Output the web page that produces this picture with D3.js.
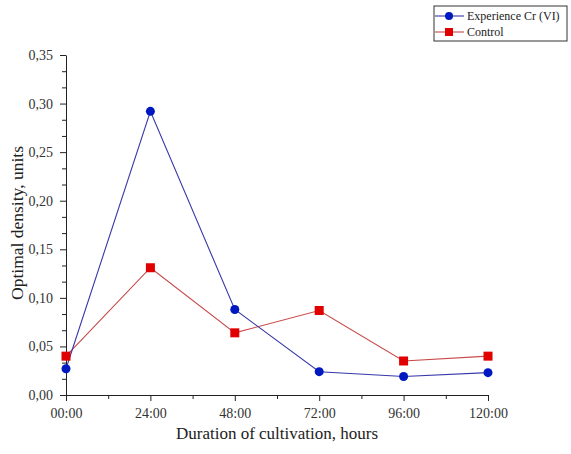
<!DOCTYPE html>
<html>
<head>
<meta charset="utf-8">
<script src="https://cdn.jsdelivr.net/npm/d3@7"></script>
<style>
    body { margin: 0; background: #fff; }
    text { font-family: "Liberation Serif", "Times New Roman", serif; }
</style>
</head>
<body>
<div id="vis"></div>
<script>
// Hours of cultivation (x values)
var hours = [0, 24, 48, 72, 96, 120];
// Series values
var experience = [0.027, 0.292, 0.088, 0.024, 0.019, 0.023];
var control = [0.040, 0.131, 0.064, 0.087, 0.035, 0.040];
// Tick values and labels
var xTicks = [0, 24, 48, 72, 96, 120];
var xTickLabels = ['00:00', '24:00', '48:00', '72:00', '96:00', '120:00'];
var yTicks = [0, 0.05, 0.10, 0.15, 0.20, 0.25, 0.30, 0.35];

var width = 571;
var height = 454;

// Space around the plot area
var margin = { left: 66, top: 55, right: 83, bottom: 59 };
var drawWidth = width - margin.left - margin.right;
var drawHeight = height - margin.top - margin.bottom;

var svg = d3.select('#vis')
    .append('svg')
    .attr('width', width)
    .attr('height', height);

var g = svg.append('g')
    .attr('transform', 'translate(' + margin.left + ',' + margin.top + ')');

// Scales
var xScale = d3.scaleLinear().domain([0, 120]).range([0, drawWidth]);
var yScale = d3.scaleLinear().domain([0, 0.35]).range([drawHeight, 0]);

// Minor ticks: halfway on x, thirds on y
var xMinor = d3.range(12, 120, 24);
var yMinor = [];
yTicks.slice(0, -1).forEach(function(t) {
    yMinor.push(t + 0.05 / 3, t + 0.10 / 3);
});

// Minor tick axes (no labels)
g.append('g')
    .attr('transform', 'translate(0,' + drawHeight + ')')
    .call(d3.axisBottom(xScale).tickValues(xMinor).tickSize(4).tickFormat(''))
    .call(function(a) { a.select('.domain').remove(); });
g.append('g')
    .call(d3.axisLeft(yScale).tickValues(yMinor).tickSize(4).tickFormat(''))
    .call(function(a) { a.select('.domain').remove(); });

// Major axes
var xAxis = g.append('g')
    .attr('class', 'axis')
    .attr('transform', 'translate(0,' + drawHeight + ')')
    .call(d3.axisBottom(xScale)
        .tickValues(xTicks)
        .tickSize(6)
        .tickSizeOuter(0)
        .tickPadding(4)
        .tickFormat(function(d, i) { return xTickLabels[i]; }));

var yAxis = g.append('g')
    .attr('class', 'axis')
    .call(d3.axisLeft(yScale)
        .tickValues(yTicks)
        .tickSize(6)
        .tickSizeOuter(0)
        .tickPadding(7)
        .tickFormat(function(d) { return d3.format('.2f')(d).replace('.', ','); }));

g.selectAll('.axis text')
    .attr('font-size', 14)
    .attr('fill', '#333')
    .style('font-family', '"Liberation Serif", serif');
xAxis.selectAll('text').attr('dy', '0.9em');
g.selectAll('.tick line, .domain').attr('stroke', '#222');

// Axis titles
svg.append('text')
    .attr('x', margin.left + drawWidth / 2)
    .attr('y', 439)
    .attr('text-anchor', 'middle')
    .attr('font-size', 17)
    .attr('fill', '#222')
    .text('Duration of cultivation, hours');

svg.append('text')
    .attr('transform', 'translate(23,' + (margin.top + drawHeight / 2 - 2) + ') rotate(-90)')
    .attr('text-anchor', 'middle')
    .attr('font-size', 17.5)
    .attr('fill', '#222')
    .text('Optimal density, units');

// Lines
var line = d3.line()
    .x(function(d, i) { return xScale(hours[i]); })
    .y(function(d) { return yScale(d); });

g.append('path')
    .datum(control)
    .attr('d', line)
    .attr('fill', 'none')
    .attr('stroke', '#c84848')
    .attr('stroke-width', 1.1);

g.append('path')
    .datum(experience)
    .attr('d', line)
    .attr('fill', 'none')
    .attr('stroke', '#3838a8')
    .attr('stroke-width', 1.1);

// Markers
g.selectAll('.sq')
    .data(control)
    .enter().append('rect')
    .attr('class', 'sq')
    .attr('x', function(d, i) { return xScale(hours[i]) - 4.5; })
    .attr('y', function(d) { return yScale(d) - 4.5; })
    .attr('width', 9)
    .attr('height', 9)
    .attr('fill', '#e00000');

g.selectAll('.dot')
    .data(experience)
    .enter().append('circle')
    .attr('class', 'dot')
    .attr('cx', function(d, i) { return xScale(hours[i]); })
    .attr('cy', function(d) { return yScale(d); })
    .attr('r', 4.5)
    .attr('fill', '#0018c0');

// Legend
var legend = svg.append('g').attr('transform', 'translate(434,6)');
legend.append('rect')
    .attr('width', 133)
    .attr('height', 35)
    .attr('fill', '#fff')
    .attr('stroke', '#333')
    .attr('stroke-width', 1);

var legendItems = [
    { name: 'Experience Cr (VI)', line: '#3838a8', fill: '#0018c0', shape: 'circle' },
    { name: 'Control', line: '#c84848', fill: '#e00000', shape: 'square' }
];

legendItems.forEach(function(item, i) {
    var yy = 10 + i * 16;
    legend.append('line')
        .attr('x1', 1).attr('x2', 30)
        .attr('y1', yy).attr('y2', yy)
        .attr('stroke', item.line)
        .attr('stroke-width', 1.1);
    if (item.shape === 'circle') {
        legend.append('circle')
            .attr('cx', 15).attr('cy', yy).attr('r', 4)
            .attr('fill', item.fill);
    } else {
        legend.append('rect')
            .attr('x', 11).attr('y', yy - 4)
            .attr('width', 8).attr('height', 8)
            .attr('fill', item.fill);
    }
    legend.append('text')
        .attr('x', 33)
        .attr('y', yy + 4)
        .attr('font-size', 12)
        .attr('fill', '#222')
        .text(item.name);
});
</script>
</body>
</html>
